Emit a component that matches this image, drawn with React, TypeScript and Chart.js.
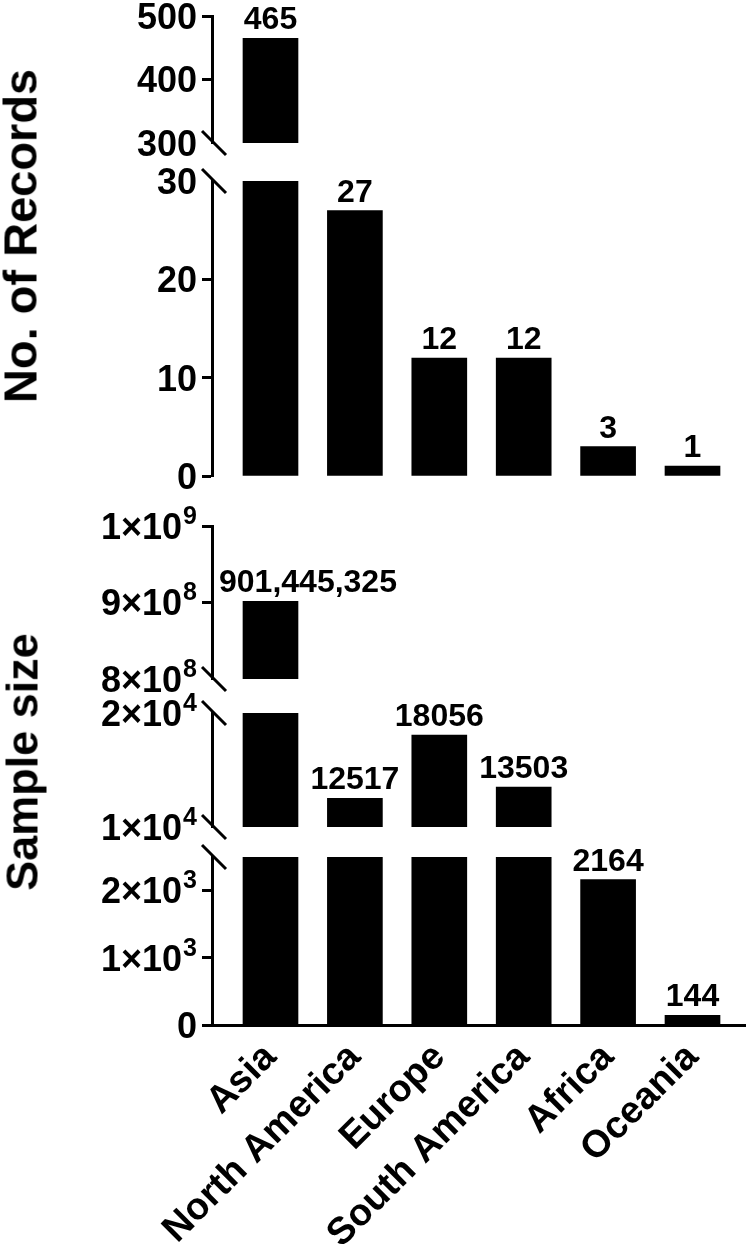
import React, { useEffect, useRef } from 'react';
import { Chart, registerables } from 'chart.js';

Chart.register(...registerables);

// ---------------- data ----------------
const categories = ['Asia', 'North America', 'Europe', 'South America', 'Africa', 'Oceania'];
const recordCounts = [465, 27, 12, 12, 3, 1];
const sampleSizes = [901445325, 12517, 18056, 13503, 2164, 144];

const recordsUpperRange = [300, 500];
const recordsUpperTicks = [300, 400, 500];
const recordsUpperTickLabels = ['300', '400', '500'];

const recordsLowerRange = [0, 30];
const recordsLowerTicks = [0, 10, 20, 30];
const recordsLowerTickLabels = ['0', '10', '20', '30'];

const sampleUpperRange = [800000000, 1000000000];
const sampleUpperTicks = [800000000, 900000000, 1000000000];
const sampleUpperTickLabels = ['8×10^8', '9×10^8', '1×10^9'];

const sampleMiddleRange = [10000, 20000];
const sampleMiddleTicks = [10000, 20000];
const sampleMiddleTickLabels = ['1×10^4', '2×10^4'];

const sampleLowerRange = [0, 2500];
const sampleLowerTicks = [0, 1000, 2000];
const sampleLowerTickLabels = ['0', '1×10^3', '2×10^3'];

// ---------------- layout / style ----------------
const PAGE_W = 749;
const PAGE_H = 1247;
const AXIS_X = 212;
const AXIS_RIGHT = 745;
const PAD = 40;
const X_MIN = -0.693;
const X_MAX = 5.622;
const FONT = "'Liberation Sans', Arial, Helvetica, sans-serif";
const TICK_SIZE = 36;
const SUP_SIZE = 25;
const VALUE_SIZE = 32;
const CAT_SIZE = 38;

type Segment = {
  values: number[];
  range: number[];
  ticks: number[];
  tickLabels: string[];
  areaTop: number;
  areaBottom: number;
  breakTop: boolean;
  breakBottom: boolean;
  showX: boolean;
};

const segments: Segment[] = [
  { values: recordCounts, range: recordsUpperRange, ticks: recordsUpperTicks, tickLabels: recordsUpperTickLabels, areaTop: 16, areaBottom: 143, breakTop: false, breakBottom: true, showX: false },
  { values: recordCounts, range: recordsLowerRange, ticks: recordsLowerTicks, tickLabels: recordsLowerTickLabels, areaTop: 181, areaBottom: 476, breakTop: true, breakBottom: false, showX: false },
  { values: sampleSizes, range: sampleUpperRange, ticks: sampleUpperTicks, tickLabels: sampleUpperTickLabels, areaTop: 526, areaBottom: 679, breakTop: false, breakBottom: true, showX: false },
  { values: sampleSizes, range: sampleMiddleRange, ticks: sampleMiddleTicks, tickLabels: sampleMiddleTickLabels, areaTop: 713, areaBottom: 827, breakTop: true, breakBottom: true, showX: false },
  { values: sampleSizes, range: sampleLowerRange, ticks: sampleLowerTicks, tickLabels: sampleLowerTickLabels, areaTop: 857, areaBottom: 1025, breakTop: true, breakBottom: false, showX: true },
];

function geometry(seg: Segment) {
  const top = seg.areaTop - PAD;
  const h = seg.showX ? PAGE_H - top : seg.areaBottom - seg.areaTop + 2 * PAD;
  return { top, h };
}

function formatValue(v: number) {
  return v >= 1000000 ? v.toLocaleString('en-US') : String(v);
}

const decorPlugin = {
  id: 'segmentDecor',
  afterDraw(chart: any, _args: any, opts: any) {
    const { ctx, chartArea } = chart;
    const yScale = chart.scales.y;
    const meta = chart.getDatasetMeta(0);
    const data = chart.data.datasets[0].data as { x: number; y: number }[];
    ctx.save();
    ctx.fillStyle = '#000';

    // value labels above the bars whose top falls in this segment
    ctx.font = `bold ${VALUE_SIZE}px ${FONT}`;
    ctx.textAlign = 'center';
    ctx.textBaseline = 'alphabetic';
    meta.data.forEach((bar: any, i: number) => {
      const v = data[i].y;
      if (v > yScale.min && v <= yScale.max) {
        const text = formatValue(v);
        const w = ctx.measureText(text).width;
        let cx = bar.x;
        const minLeft = chartArea.left + 7;
        if (cx - w / 2 < minLeft) cx = minLeft + w / 2;
        ctx.fillText(text, cx, bar.y - 9);
      }
    });

    // y tick labels with superscript exponents
    const ticks: number[] = opts.ticks;
    const labels: string[] = opts.tickLabels;
    const right = chartArea.left - 10 - 5;
    ctx.textAlign = 'left';
    ctx.textBaseline = 'alphabetic';
    ticks.forEach((t, k) => {
      const y = yScale.getPixelForValue(t);
      const [base, exp] = labels[k].split('^');
      ctx.font = `bold ${TICK_SIZE}px ${FONT}`;
      const wb = ctx.measureText(base).width;
      let we = 0;
      if (exp) {
        ctx.font = `bold ${SUP_SIZE}px ${FONT}`;
        we = ctx.measureText(exp).width + 1;
      }
      const baseY = y + TICK_SIZE * 0.358;
      ctx.font = `bold ${TICK_SIZE}px ${FONT}`;
      ctx.fillText(base, right - we - wb, baseY);
      if (exp) {
        ctx.font = `bold ${SUP_SIZE}px ${FONT}`;
        ctx.fillText(exp, right - we + 1, baseY - 15);
      }
    });

    // axis-break marks
    ctx.strokeStyle = '#000';
    ctx.lineWidth = 3;
    const drawBreak = (yy: number) => {
      ctx.beginPath();
      ctx.moveTo(chartArea.left - 10, yy - 12);
      ctx.lineTo(chartArea.left + 14, yy + 12);
      ctx.stroke();
    };
    if (opts.breakTop) drawBreak(chartArea.top);
    if (opts.breakBottom) drawBreak(chartArea.bottom);
    ctx.restore();
  },
};

function makeConfig(seg: Segment): any {
  const [min, max] = seg.range;
  const xAxisHeight = seg.showX ? PAGE_H - seg.areaBottom : 0;
  return {
    type: 'bar',
    data: {
      datasets: [
        {
          data: categories.map((_, i) => ({ x: i, y: seg.values[i] })),
          backgroundColor: '#000',
          borderWidth: 0,
          barThickness: 55,
          clip: 0,
        },
      ],
    },
    options: {
      animation: false,
      responsive: false,
      devicePixelRatio: 1,
      events: [],
      layout: { padding: { left: 0, right: PAGE_W - AXIS_RIGHT, top: PAD, bottom: seg.showX ? 0 : PAD } },
      plugins: {
        legend: { display: false },
        tooltip: { enabled: false },
        segmentDecor: {
          breakTop: seg.breakTop,
          breakBottom: seg.breakBottom,
          ticks: seg.ticks,
          tickLabels: seg.tickLabels,
        },
      },
      scales: {
        x: {
          type: 'linear',
          min: X_MIN,
          max: X_MAX,
          bounds: 'data',
          offset: false,
          display: seg.showX,
          grid: { display: false, drawTicks: false, offset: false },
          border: { display: true, color: '#000', width: 3 },
          ticks: {
            autoSkip: false,
            minRotation: 45,
            maxRotation: 45,
            padding: 10,
            color: '#000',
            font: { family: FONT, size: CAT_SIZE, weight: 'bold' },
            callback: (v: number) => categories[v] ?? '',
          },
          afterBuildTicks: (s: any) => {
            s.ticks = categories.map((_, i) => ({ value: i }));
          },
          afterFit: (s: any) => {
            s.height = xAxisHeight;
            s.paddingLeft = 0;
            s.paddingRight = 0;
          },
        },
        y: {
          type: 'linear',
          min,
          max,
          bounds: 'data',
          grid: {
            display: true,
            drawOnChartArea: false,
            drawTicks: true,
            tickLength: 10,
            tickWidth: 3,
            tickColor: (c: any) => {
              const val = c.tick ? c.tick.value : null;
              if ((val === min && seg.breakBottom) || (val === max && seg.breakTop)) return 'rgba(0,0,0,0)';
              return '#000';
            },
          },
          border: { display: true, color: '#000', width: 3 },
          ticks: { display: false },
          afterBuildTicks: (s: any) => {
            s.ticks = seg.ticks.map((v) => ({ value: v }));
          },
          afterFit: (s: any) => {
            s.width = AXIS_X;
          },
        },
      },
    },
    plugins: [decorPlugin],
  };
}

function titleStyle(cx: number, cy: number, size: number): React.CSSProperties {
  return {
    position: 'absolute',
    left: cx,
    top: cy,
    transform: 'translate(-50%, -50%) rotate(-90deg)',
    fontFamily: FONT,
    fontWeight: 'bold',
    fontSize: size,
    lineHeight: 1,
    whiteSpace: 'nowrap',
    color: '#000',
  };
}

export default function App() {
  const refs = useRef<(HTMLCanvasElement | null)[]>([]);
  useEffect(() => {
    const charts = segments.map((seg, i) => new Chart(refs.current[i] as HTMLCanvasElement, makeConfig(seg)));
    return () => charts.forEach((c) => c.destroy());
  }, []);
  return (
    <div style={{ position: 'absolute', left: 0, top: 0, width: PAGE_W, height: PAGE_H, background: '#fff', overflow: 'hidden' }}>
      {segments.map((seg, i) => {
        const g = geometry(seg);
        return (
          <canvas
            key={i}
            ref={(el) => {
              refs.current[i] = el;
            }}
            width={PAGE_W}
            height={g.h}
            style={{ position: 'absolute', left: 0, top: g.top, width: PAGE_W, height: g.h }}
          />
        );
      })}
      <div style={titleStyle(20, 236, 47)}>No. of Records</div>
      <div style={titleStyle(22, 762, 45)}>Sample size</div>
    </div>
  );
}
